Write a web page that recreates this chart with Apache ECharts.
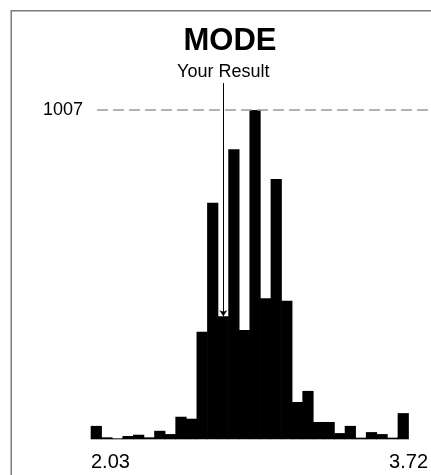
<!DOCTYPE html>
<html><head><meta charset="utf-8">
<script src="https://cdn.jsdelivr.net/npm/echarts@6/dist/echarts.min.js"></script>
<style>html,body{margin:0;padding:0;background:#fff}#c{width:431px;height:475px}</style>
</head><body><div id="c"></div>
<script>
// Histogram of results
const xMin = 2.03;
const xMax = 3.72;
const counts = [41, 6, 3, 10, 14, 6, 26, 16, 69, 63, 329, 723, 376, 887, 334, 1007, 431, 796, 424, 114, 148, 53, 53, 19, 41, 5, 22, 16, 5, 80];
const modeValue = 1007;
const resultBin = 12;
const resultValue = 376;
const edgeLabels = [2.03, 3.72];
const titleText = 'MODE';
const resultText = 'Your Result';

const binWidth = (xMax - xMin) / counts.length;
const categories = counts.map((_, i) => (xMin + (i + 0.5) * binWidth).toFixed(3));

const font = '"Liberation Sans", Arial, Helvetica, sans-serif';
const chart = echarts.init(document.getElementById('c'), null, {renderer: 'canvas'});
chart.setOption({
  animation: false,
  backgroundColor: '#fff',
  title: {
    text: titleText,
    left: 225, top: 21, textAlign: 'center',
    textStyle: {fontFamily: font, fontWeight: 'bold', fontSize: 31, color: '#000'}
  },
  graphic: [{
    type: 'rect', silent: true,
    shape: {x: 11.25, y: 10.75, width: 600, height: 600},
    style: {fill: 'none', stroke: '#7a7a7a', lineWidth: 1.5}
  }],
  grid: {left: 91, right: 16, top: 110, bottom: 35.7},
  xAxis: [{
    type: 'category', data: categories, boundaryGap: true,
    axisLine: {show: false}, axisTick: {show: false}, axisLabel: {show: false}, splitLine: {show: false}
  }, {
    type: 'value', min: xMin, max: xMax, position: 'bottom',
    axisLine: {show: false}, axisTick: {show: false}, splitLine: {show: false},
    axisLabel: {
      customValues: edgeLabels, margin: 13,
      formatter: v => v.toFixed(2),
      alignMinLabel: 'left', alignMaxLabel: 'center',
      fontFamily: font, fontSize: 20, color: '#000'
    }
  }],
  yAxis: {
    type: 'value', min: 0, max: modeValue, interval: modeValue,
    axisLine: {show: false}, axisTick: {show: false}, splitLine: {show: false},
    axisLabel: {customValues: [modeValue], formatter: v => String(v), margin: 8, fontFamily: font, fontSize: 18, color: '#000'}
  },
  series: [{
    type: 'bar', data: counts, xAxisIndex: 0, yAxisIndex: 0,
    barWidth: '106%', barCategoryGap: '0%', clip: false,
    itemStyle: {color: '#000'},
    markLine: {
      silent: true, animation: false,
      data: [
        [{x: 97, yAxis: modeValue, symbol: 'none', lineStyle: {color: '#9a9a9a', width: 1.5, type: [11, 5]}, label: {show: false}},
         {x: 431, yAxis: modeValue, symbol: 'none'}],
        [{xAxis: resultBin, y: 83, symbol: 'none', lineStyle: {color: '#000', width: 1, type: 'solid'},
          label: {show: true, position: 'start', formatter: resultText, distance: 2, fontFamily: font, fontSize: 18, color: '#000'}},
         {xAxis: resultBin, yAxis: resultValue, symbol: 'arrow', symbolSize: [6, 6]}]
      ]
    }
  }]
});
</script></body></html>
